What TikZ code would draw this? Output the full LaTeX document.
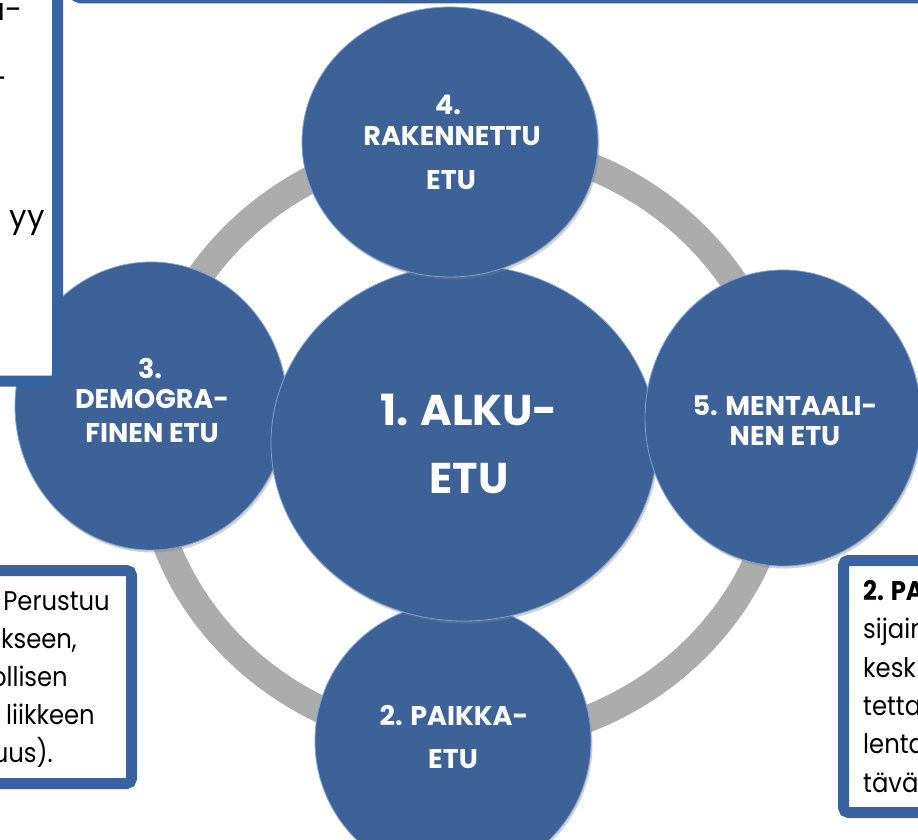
\documentclass[tikz,border=0pt]{standalone}
\usepackage{fontspec}
\setmainfont{Poppins}
\newfontfamily\boxfont{Poppins}[FakeStretch=0.9]
\usetikzlibrary{shapes.geometric,shadows}
\definecolor{circblue}{RGB}{60,98,152}
\definecolor{rimblue}{RGB}{125,163,212}
\definecolor{framblue}{RGB}{57,99,158}
\definecolor{ringgray}{RGB}{172,172,172}
\begin{document}
\begin{tikzpicture}[x=1pt,y=-1pt,
  bubble/.style={ellipse, fill=circblue, draw=rimblue, line width=0.8pt, inner sep=0pt,
    drop shadow={opacity=0.35, shadow xshift=1.5pt, shadow yshift=-2.5pt}},
  frame/.style={draw=framblue, line width=11pt, fill=white, rounded corners=5pt},
  bubtext/.style={text=white, font=\bfseries\fontsize{27}{30}\selectfont, anchor=base, inner sep=0pt},
  bigtext/.style={text=white, font=\bfseries\fontsize{43}{46}\selectfont, anchor=base, inner sep=0pt},
  boxtext/.style={text=black, font=\boxfont\fontsize{27}{32}\selectfont, inner sep=0pt},
  tltext/.style={text=black, font=\fontsize{31}{34}\selectfont, inner sep=0pt},
]
\useasboundingbox (0,0) rectangle (918,840);
\clip (0,0) rectangle (918,840);
\fill[white] (0,0) rectangle (918,840);
% ring
\draw[ringgray, line width=27pt] (465,442) ellipse [x radius=318pt, y radius=300pt];
% circles
\node[bubble, minimum width=272pt, minimum height=288pt] (c3) at (151,406) {};
\node[bubble, minimum width=276pt, minimum height=276pt] (c2) at (453,741) {};
\node[bubble, minimum width=386pt, minimum height=356pt] (c1) at (464,443) {};
\node[bubble, minimum width=296pt, minimum height=270pt] (c4) at (450,142) {};
\node[bubble, minimum width=276pt, minimum height=296pt] (c5) at (783,418) {};
% circle texts
\node[bigtext] (t1a) at (469,425) {1. ALKU-};
\node[bigtext] (t1b) at (469,493) {ETU};
\node[bubtext] (t4a) at (448,115) {4.};
\node[bubtext] (t4b) at (452,146) {RAKENNETTU};
\node[bubtext] (t4c) at (451,189) {ETU};
\node[bubtext] (t3a) at (150,378) {3.};
\node[bubtext] (t3b) at (152,408) {DEMOGRA-};
\node[bubtext] (t3c) at (152,442) {FINEN ETU};
\node[bubtext] (t5a) at (785,415) {5. MENTAALI-};
\node[bubtext] (t5b) at (785,445) {NEN ETU};
\node[bubtext] (t2a) at (454,725) {2. PAIKKA-};
\node[bubtext] (t2b) at (453,768) {ETU};
% frames
\draw[frame] (75.5,-100) rectangle (1000,-2);
\draw[frame] (-100,-100) rectangle (57.5,381);
\draw[frame] (-100,570.5) rectangle (131.5,783.5);
\draw[frame] (843.5,560.5) rectangle (1000,812.5);
% top-left box text
\node[tltext, anchor=base east] (l1) at (23,21) {a-};
\node[tltext, anchor=base east] (l3) at (8,90) {-};
\node[tltext, anchor=base east] (l7) at (45,227) {yy};
% bottom-left box text
\node[boxtext, anchor=base east] (b1) at (110,610) {Perustuu};
\node[boxtext, anchor=base east] (b2) at (77,648) {kseen,};
\node[boxtext, anchor=base east] (b3) at (68,686) {ollisen};
\node[boxtext, anchor=base east] (b4) at (95,724) {liikkeen};
\node[boxtext, anchor=base east] (b5) at (53,762) {uus).};
% bottom-right box text
\node[boxtext, anchor=base west] (r1) at (863,600) {\bfseries 2. PA};
\node[boxtext, anchor=base west] (r2) at (863,638) {sijain};
\node[boxtext, anchor=base west] (r3) at (863,677) {kesk};
\node[boxtext, anchor=base west] (r4) at (863,715) {tetta};
\node[boxtext, anchor=base west] (r5) at (863,753) {lenta};
\node[boxtext, anchor=base west] (r6) at (863,792) {tävä};
\end{tikzpicture}
\end{document}
